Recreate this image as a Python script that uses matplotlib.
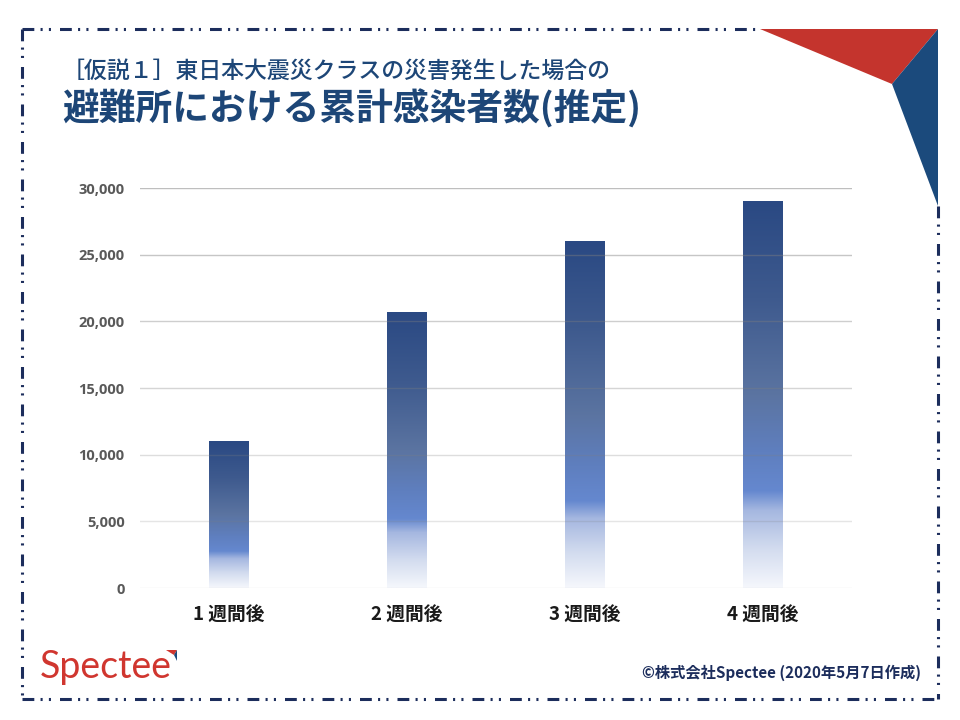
import matplotlib
matplotlib.use("Agg")
import matplotlib.pyplot as plt
import numpy as np
from matplotlib.colors import LinearSegmentedColormap
from matplotlib.patches import Polygon
from matplotlib.lines import Line2D

plt.rcParams['font.family'] = ['Noto Sans CJK JP', 'DejaVu Sans']
plt.rcParams['lines.scale_dashes'] = False

# ---- data ----
categories = ["1 週間後", "2 週間後", "3 週間後", "4 週間後"]
values = [11000, 20700, 26000, 29000]
yticks = [0, 5000, 10000, 15000, 20000, 25000, 30000]
ytick_labels = ["0", "5,000", "10,000", "15,000", "20,000", "25,000", "30,000"]
title1 = "［仮説１］東日本大震災クラスの災害発生した場合の"
title2 = "避難所における累計感染者数(推定)"
credit = "©株式会社Spectee (2020年5月7日作成)"
logo = "Spectee"

W, H = 960, 720
fig = plt.figure(figsize=(9.6, 7.2), dpi=100)
fig.patch.set_facecolor("white")


def px(x, y):
    return (x / W, 1 - y / H)


NAVY = "#1c2d5c"
TITLE = "#1d4677"

# ---- axes ----
ax = fig.add_axes([140 / W, (H - 588) / H, (852 - 140) / W, (588 - 188) / H])
for s in ax.spines.values():
    s.set_visible(False)

cmap = LinearSegmentedColormap.from_list("bar", [
    (0.0, "#f5f7fc"),
    (0.1, "#d3dcef"),
    (0.2, "#a5b7e0"),
    (0.25, "#6588cf"),
    (0.35, "#5f7fbf"),
    (0.5, "#5b74a1"),
    (0.75, "#3e5a8e"),
    (1.0, "#2a4983"),
])
grad = np.linspace(0, 1, 256).reshape(-1, 1)
bw = 0.22
x = np.arange(len(categories))
bars = ax.bar(x, values, width=bw, color="none", edgecolor="none", zorder=2)
for xi, v, b in zip(x, values, bars):
    im = ax.imshow(grad, extent=[xi - bw / 2, xi + bw / 2, 0, v], origin="lower",
                   aspect="auto", cmap=cmap, zorder=2, interpolation="bilinear")
    im.set_clip_path(b)

ax.set_xlim(-0.5, len(categories) - 0.5)
ax.set_ylim(0, 30000)

# gridlines (fading toward the bottom)
for t in yticks:
    a = 0.14 + 0.36 * (t / 30000)
    ax.axhline(t, color="#7f7f7f", alpha=a, lw=1.0, zorder=3)

ax.set_yticks(yticks)
ax.set_yticklabels(ytick_labels, fontdict={"family": ["Open Sans", "DejaVu Sans"],
                                           "weight": "bold", "size": 10.5,
                                           "color": "#595959"})
ax.tick_params(axis="y", length=0, pad=11)
ax.set_xticks(x)
ax.set_xticklabels(categories, fontsize=13.5, fontweight="bold", color="#1a1a1a")
ax.tick_params(axis="x", length=0, pad=13)

# ---- titles ----
fig.text(*px(62, 71), title1, fontsize=16.5, fontweight="medium", color=TITLE,
         va="center", ha="left")
fig.text(*px(62, 109), title2, fontsize=26.5, fontweight="bold", color=TITLE,
         va="center", ha="left")

# ---- credit ----
fig.text(*px(921, 673), credit, fontsize=11, fontweight="bold", color=NAVY,
         va="center", ha="right")

# ---- logo ----
fig.text(*px(40, 678), logo, fontsize=27, color="#d0362f", va="baseline", ha="left",
         family=["Lato", "DejaVu Sans"])
fig.add_artist(Polygon([px(166, 650), px(177, 650), px(174, 655)], closed=True,
                       transform=fig.transFigure, color="#d0362f", lw=0))
fig.add_artist(Polygon([px(177, 650), px(174, 655), px(177, 661)], closed=True,
                       transform=fig.transFigure, color="#1b4a7c", lw=0))

# ---- corner triangles ----
fig.add_artist(Polygon([px(760, 29), px(938, 29), px(892, 84)], closed=True,
                       transform=fig.transFigure, color="#c4342d", lw=0))
fig.add_artist(Polygon([px(938, 29), px(892, 84), px(938, 206)], closed=True,
                       transform=fig.transFigure, color="#1b4a7c", lw=0))

# ---- dash-dot-dot frame ----
ls = (0, (8.5, 4.5, 1.5, 4.5, 1.5, 6.5))
segs = [((22, 29), (760, 29)), ((938, 206), (938, 699)),
        ((22, 699), (938, 699)), ((22, 29), (22, 699))]
for (a, b) in segs:
    p0, p1 = px(*a), px(*b)
    fig.add_artist(Line2D([p0[0], p1[0]], [p0[1], p1[1]], transform=fig.transFigure,
                          color=NAVY, lw=2.2, linestyle=ls, solid_capstyle="butt",
                          dash_capstyle="butt"))

fig.savefig("out.png", dpi=100, facecolor="white")
